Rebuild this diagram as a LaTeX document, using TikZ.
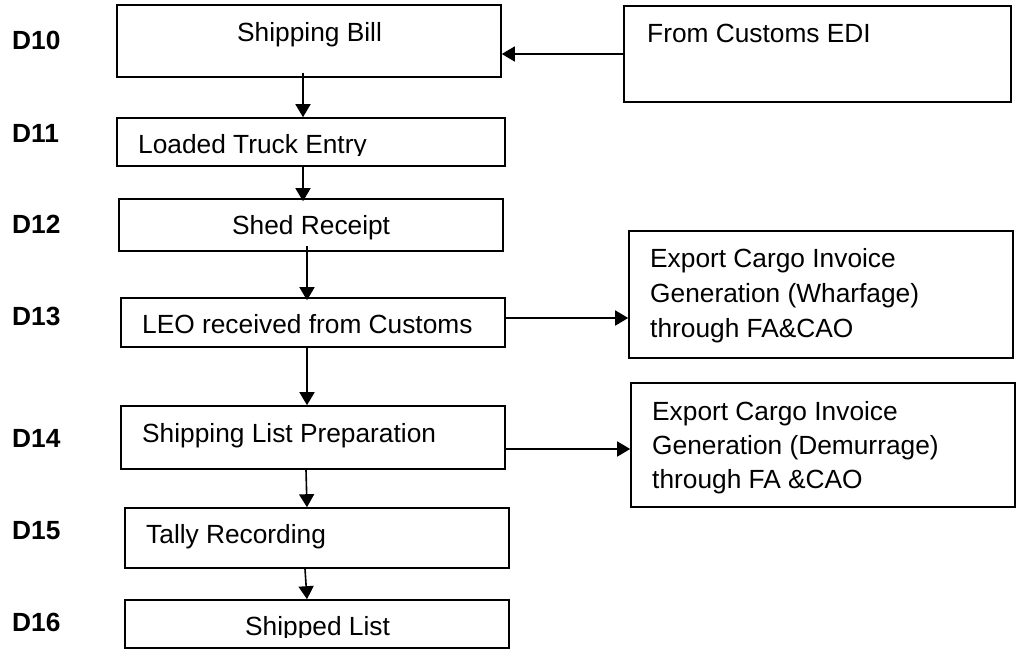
\documentclass[tikz,border=0pt]{standalone}
\usepackage{fontspec}
\setmainfont{Liberation Sans}
\usetikzlibrary{arrows.meta}
\begin{document}
\begin{tikzpicture}[x=1pt,y=-1pt,
  box/.style={draw, line width=1.6pt, inner sep=0pt, rectangle},
  txt/.style={anchor=base west, inner sep=0pt, font=\fontsize{26.3}{34}\selectfont},
  lbl/.style={anchor=base west, inner sep=0pt, font=\fontsize{26.3}{34}\selectfont\bfseries},
  arr/.style={line width=1.6pt, -{Triangle[length=13pt,width=15pt]}}]
\useasboundingbox (0,0) rectangle (1018,651);
% left column boxes
\node[box, minimum width=384pt, minimum height=72pt] (SB)  at (309,41)    {};
\node[box, minimum width=388pt, minimum height=48pt] (LTE) at (311,142)   {};
\node[box, minimum width=384pt, minimum height=52pt] (SR)  at (311,225)   {};
\node[box, minimum width=384pt, minimum height=49pt] (LEO) at (313,322.5) {};
\node[box, minimum width=384pt, minimum height=63pt] (SLP) at (313,437.5) {};
\node[box, minimum width=384pt, minimum height=60pt] (TR)  at (317,538)   {};
\node[box, minimum width=384pt, minimum height=48pt] (SL)  at (317,624)   {};
% right column boxes
\node[box, minimum width=387pt, minimum height=96pt]  (EDI) at (817.5,54)  {};
\node[box, minimum width=384pt, minimum height=127pt] (WH)  at (821,294.5) {};
\node[box, minimum width=384pt, minimum height=124pt] (DM)  at (823,445)   {};
% texts
\node[txt] (SBt)  at (237,41)  {Shipping Bill};
\begin{scope}
\clip (117,118) rectangle (505,155);
\node[txt] (LTEt) at (138,153) {Loaded Truck Entry};
\end{scope}
\node[txt] (SRt)  at (232,234) {Shed Receipt};
\node[txt] (LEOt) at (142,333) {LEO received from Customs};
\node[txt] (SLPt) at (142,442) {Shipping List Preparation};
\node[txt] (TRt)  at (146,543) {Tally Recording};
\begin{scope}
\clip (125,600) rectangle (509,637);
\node[txt] (SLt)  at (245,635) {Shipped List};
\end{scope}
\node[txt] (EDIt) at (647,42)  {From Customs EDI};
\node[txt] (WH1)  at (650,267) {Export Cargo Invoice};
\node[txt] (WH2)  at (650,302) {Generation (Wharfage)};
\node[txt] (WH3)  at (650,337) {through FA\&CAO};
\node[txt] (DM1)  at (652,420) {Export Cargo Invoice};
\node[txt] (DM2)  at (652,454) {Generation (Demurrage)};
\node[txt] (DM3)  at (652,488) {through FA \&CAO};
% step labels
\node[lbl] (D10) at (12,49)  {D10};
\node[lbl] (D11) at (12,142) {D11};
\node[lbl] (D12) at (12,233) {D12};
\node[lbl] (D13) at (12,325) {D13};
\node[lbl] (D14) at (12,447) {D14};
\node[lbl] (D15) at (12,539) {D15};
\node[lbl] (D16) at (12,631) {D16};
% vertical connectors
\draw[arr] ([xshift=-6pt,yshift=5pt]SB.south) -- ([xshift=-8pt]LTE.north);
\draw[arr] ([xshift=-8pt]LTE.south) -- ([xshift=-8pt,yshift=-3pt]SR.north);
\draw[arr] ([xshift=-4pt,yshift=6pt]SR.south) -- ([xshift=-6pt,yshift=-3pt]LEO.north);
\draw[arr] ([xshift=-6pt]LEO.south) -- ([xshift=-6pt]SLP.north);
\draw[arr] ([xshift=-7pt]SLP.south) -- ([xshift=-10pt]TR.north);
\draw[arr] ([xshift=-12pt]TR.south) -- ([xshift=-10pt]SL.north);
% horizontal connectors
\draw[arr] (EDI.west) -- ([yshift=-13pt]SB.east);
\draw[arr] ([yshift=4.5pt]LEO.east) -- ([yshift=-23.5pt]WH.west);
\draw[arr] ([yshift=-11.5pt]SLP.east) -- ([yshift=-4pt]DM.west);
\end{tikzpicture}
\end{document}
